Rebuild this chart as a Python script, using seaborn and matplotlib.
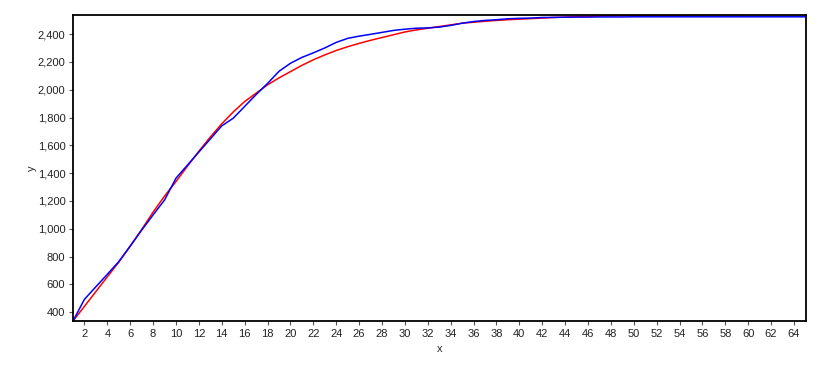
import matplotlib
matplotlib.use("Agg")
import matplotlib.pyplot as plt
import matplotlib.ticker as mticker
import seaborn as sns
import pandas as pd

x_values = list(range(1, 66))

actual = [337, 493, 583, 673, 764, 876, 990, 1100, 1207, 1364,
          1458, 1552, 1646, 1740, 1795, 1880, 1965, 2045, 2132, 2190,
          2232, 2265, 2300, 2340, 2369, 2385, 2398, 2412, 2426, 2435,
          2442, 2444, 2450, 2462, 2478, 2490, 2498, 2503, 2510, 2513,
          2515, 2519, 2520, 2521, 2522, 2522, 2523, 2523, 2523, 2524,
          2524, 2524, 2524, 2524, 2524, 2524, 2524, 2524, 2524, 2524,
          2524, 2524, 2524, 2524, 2524]

fitted = [337, 443, 549, 655, 760, 875, 995, 1120, 1235, 1340,
          1450, 1558, 1660, 1755, 1840, 1915, 1975, 2035, 2085, 2130,
          2175, 2215, 2250, 2282, 2309, 2333, 2355, 2375, 2395, 2415,
          2430, 2442, 2454, 2466, 2478, 2485, 2492, 2498, 2503, 2507,
          2511, 2515, 2519, 2522, 2525, 2527, 2530, 2532, 2533, 2534,
          2535, 2536, 2536, 2537, 2538, 2538, 2539, 2539, 2539, 2540,
          2540, 2540, 2540, 2540, 2540]

y_ticks = list(range(400, 2401, 200))
x_ticks = list(range(2, 65, 2))

df = pd.DataFrame({
    "x": x_values * 2,
    "y": actual + fitted,
    "series": ["actual"] * len(x_values) + ["fitted"] * len(x_values),
})

sns.set_style("white")
plt.rcParams["font.family"] = ["Liberation Sans", "DejaVu Sans"]

fig = plt.figure(figsize=(8.3, 3.68), dpi=100)
ax = fig.add_axes([73 / 830, 1 - 321 / 368, (806 - 73) / 830, (321 - 15) / 368])

sns.lineplot(data=df, x="x", y="y", hue="series",
             hue_order=["fitted", "actual"],
             palette={"actual": "#0000ff", "fitted": "#ff0000"},
             linewidth=1.1, legend=False, ax=ax)

ax.set_xlim(1, 65.05)
ax.set_ylim(337, 2537)
ax.set_xticks(x_ticks)
ax.set_yticks(y_ticks)
ax.yaxis.set_major_formatter(mticker.FuncFormatter(lambda v, p: f"{v:,.0f}"))
ax.tick_params(axis="both", direction="out", length=3, width=0.8,
               color="#555555", labelsize=8, labelcolor="#222222",
               pad=2.5, left=True, bottom=True)
ax.set_xlabel("x", fontsize=8, labelpad=4)
ax.set_ylabel("y", fontsize=8)
ax.yaxis.set_label_coords(-(73 - 37) / 733, 0.5)
for s in ax.spines.values():
    s.set_visible(True)
    s.set_color("black")
    s.set_linewidth(1.3)

fig.savefig("out.png", dpi=100, facecolor="white")
